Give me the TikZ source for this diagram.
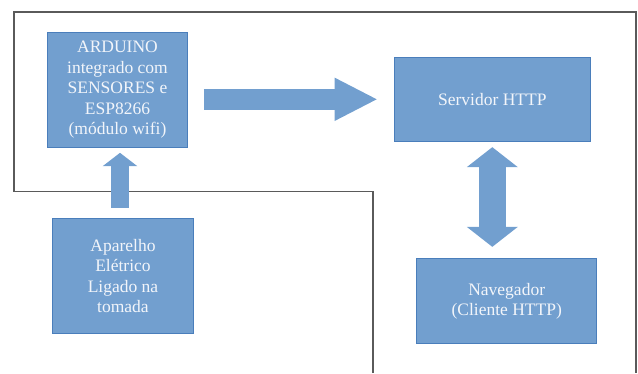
\documentclass[tikz,border=0pt]{standalone}
\usepackage{fontspec}
\setmainfont{Liberation Serif}
\usepackage{tikz}
\usetikzlibrary{positioning, arrows.meta}
\usepackage{xcolor}
\definecolor{boxfill}{HTML}{729FCF}
\definecolor{boxline}{HTML}{4A7EBB}
\definecolor{boxtext}{HTML}{F2F5FA}
\definecolor{frameline}{HTML}{5A5A5A}

\begin{document}
\begin{tikzpicture}[
        x=1pt, y=-1pt,
        block/.style={
            rectangle,
            draw=boxline,
            fill=boxfill,
            line width=0.9pt,
            align=center,
            text=boxtext,
            inner sep=2pt,
            font=\fontsize{17.5}{20.4}\selectfont
        },
        fatarrow/.style={
            draw=boxfill,
            line width=#1,
            line cap=butt
        },
        frame/.style={
            draw=frameline,
            line width=1.2pt
        }
    ]
    \useasboundingbox (0,0) rectangle (638,373);

    % Outline of the area
    \draw[frame] (373,373) -- (373,191.5) -- (14,191.5) -- (14,12) -- (636,12) -- (636,373);

    % Boxes
    \node[block, minimum width=140.4pt, minimum height=114.7pt] (arduino) at (117.5,89.7)
        {ARDUINO\\integrado com\\SENSORES e\\ESP8266\\(módulo wifi)};
    \node[block, minimum width=196.7pt, minimum height=84pt] (servidor) at (492.3,99.3)
        {Servidor HTTP};
    \node[block, minimum width=140.6pt, minimum height=115.4pt] (aparelho) at (123,276)
        {Aparelho\\Elétrico\\Ligado na\\tomada};
    \node[block, minimum width=180pt, minimum height=84.6pt] (navegador) at (506.7,301)
        {Navegador\\(Cliente HTTP)};

    % Arrows
    \draw[fatarrow=20.7pt, -{Triangle[width=40pt, length=43.3pt]}, shorten <=15.6pt, shorten >=15.7pt]
        (arduino.east |- servidor.west) -- (servidor.west);
    \draw[fatarrow=17.3pt, -{Triangle[width=34pt, length=13.4pt]}, shorten <=10pt, shorten >=5.3pt]
        ([xshift=-3pt]aparelho.north) -- ([xshift=-3pt]aparelho.north |- arduino.south);
    \draw[fatarrow=27pt, {Triangle[width=50pt, length=20pt]}-{Triangle[width=50pt, length=20pt]}, shorten <=5.4pt, shorten >=11.4pt]
        (servidor.south) -- (servidor.south |- navegador.north);

\end{tikzpicture}
\end{document}
